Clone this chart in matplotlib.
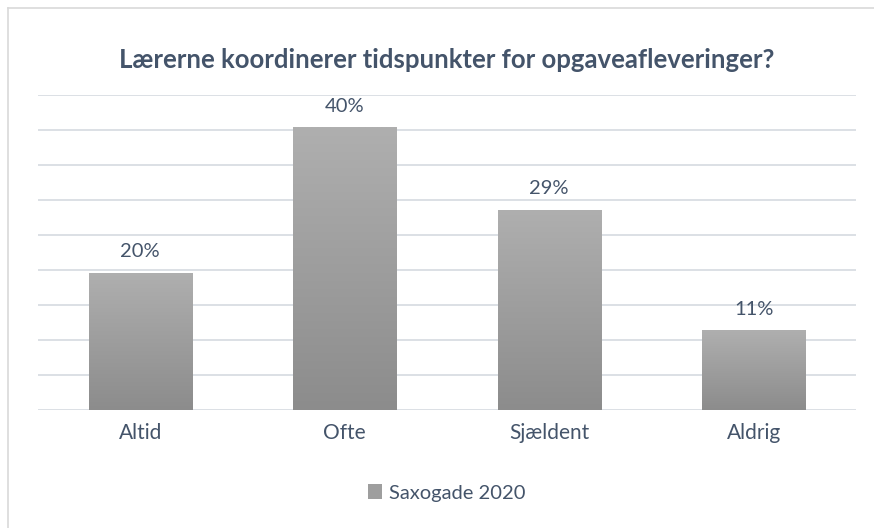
import matplotlib
matplotlib.use("Agg")
import matplotlib.pyplot as plt
import numpy as np
from matplotlib.patches import Rectangle
from matplotlib.lines import Line2D

# chart data
categories = ["Altid", "Ofte", "Sjældent", "Aldrig"]
values = [0.196, 0.404, 0.286, 0.114]
series_name = "Saxogade 2020"
title = "Lærerne koordinerer tidspunkter for opgaveafleveringer?"

plt.rcParams['font.family'] = ['Lato', 'DejaVu Sans']
text_color = '#44546A'
grid_color = '#D9DDE3'

fig = plt.figure(figsize=(8.74, 5.28), dpi=100)
W, H = 874, 528
# axes placed in pixel terms: x 38..856, y 95 (top, 0.45) .. 410 (baseline)
ax = fig.add_axes([38 / W, 1 - 410 / H, (856 - 38) / W, (410 - 95) / H])

x = np.arange(len(categories))
bars = ax.bar(x, values, width=0.505, color='#9E9E9E', zorder=2)

# vertical gray gradient on each bar
grad = np.linspace(0, 1, 256).reshape(-1, 1)
cmap = matplotlib.colors.LinearSegmentedColormap.from_list('g', ['#8C8C8C', '#AFAFAF'])
for b in bars:
    b.set_facecolor('none')
    x0, y0 = b.get_x(), b.get_y()
    im = ax.imshow(grad, cmap=cmap, aspect='auto', origin='lower',
                   extent=[x0, x0 + b.get_width(), y0, y0 + b.get_height()], zorder=2)
    im.set_clip_path(b)

ax.set_xlim(-0.5, len(categories) - 0.5)
ax.set_ylim(0, 0.45)
ax.set_yticks(np.arange(0, 0.451, 0.05))
ax.yaxis.grid(True, color=grid_color, linewidth=1.3, zorder=0)
ax.set_axisbelow(True)
ax.tick_params(axis='y', left=False, labelleft=False)
ax.tick_params(axis='x', bottom=False, labelsize=15, labelcolor=text_color, pad=6)
ax.set_xticks(x)
ax.set_xticklabels(categories)
for s in ax.spines.values():
    s.set_visible(False)

for xi, v in zip(x, values):
    ax.annotate(f"{round(v * 100):.0f}%", (xi, v), xytext=(0, 9), textcoords='offset points',
                ha='center', va='bottom', fontsize=14.5, color=text_color)

fig.text(447 / W, 1 - 60 / H, title, ha='center', va='center', fontsize=18.5,
         fontweight='bold', color=text_color)

handle = Rectangle((0, 0), 1, 1, facecolor='#9E9E9E')
fig.legend([handle], [series_name], loc='center', bbox_to_anchor=(447 / W, 1 - 493 / H),
           frameon=False, fontsize=14.5, labelcolor=text_color, handlelength=0.7,
           handleheight=0.7, handletextpad=0.35)

# chart area border (top and left edges visible)
fig.add_artist(Line2D([8 / W, 1], [1 - 7.5 / H, 1 - 7.5 / H], color='#D9D9D9', lw=1.2))
fig.add_artist(Line2D([8 / W, 8 / W], [0, 1 - 7.5 / H], color='#D9D9D9', lw=1.2))

fig.savefig('out.png', dpi=100)
